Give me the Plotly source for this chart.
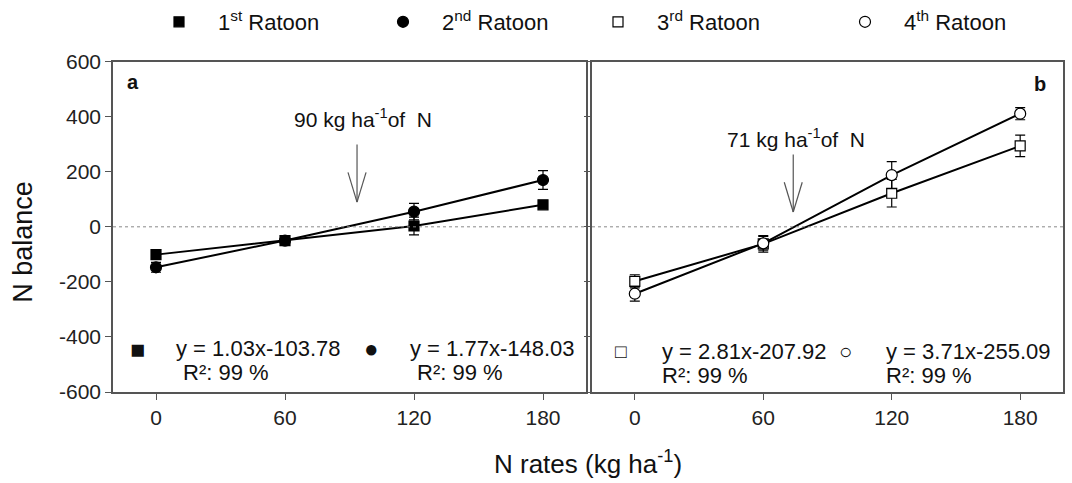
import plotly.graph_objects as go

# ---------------- data ----------------
n_rates = [0, 60, 120, 180]
x_ticks = [0, 60, 120, 180]
y_ticks = [-600, -400, -200, 0, 200, 400, 600]

ratoon1 = [-101, -50, 3, 80]
ratoon1_err = [8, 8, 32, 8]
ratoon2 = [-147, -50, 55, 170]
ratoon2_err = [18, 8, 30, 34]

ratoon3 = [-198, -62, 122, 294]
ratoon3_err = [24, 30, 50, 39]
ratoon4 = [-243, -60, 188, 411]
ratoon4_err = [27, 25, 49, 22]

series_names = ["1<sup>st</sup> Ratoon", "2<sup>nd</sup> Ratoon",
                "3<sup>rd</sup> Ratoon", "4<sup>th</sup> Ratoon"]
equations = ["y = 1.03x-103.78", "y = 1.77x-148.03",
             "y = 2.81x-207.92", "y = 3.71x-255.09"]
r2_text = "R²: 99 %"

FONT = "Liberation Sans, Arial, sans-serif"
AX = "#555555"

fig = go.Figure()

def add_series(x, y, err, name, symbol, size, fill, xa, ya, legend):
    # connecting line (not in legend)
    fig.add_trace(go.Scatter(
        x=x, y=y, mode="lines", showlegend=False, hoverinfo="skip",
        xaxis=xa, yaxis=ya, line=dict(color="black", width=2)))
    # markers with error bars (legend entry shows marker only)
    fig.add_trace(go.Scatter(
        x=x, y=y, mode="markers", name=name,
        xaxis=xa, yaxis=ya, legend=legend,
        marker=dict(symbol=symbol, size=size, color=fill,
                    line=dict(color="black", width=1.2)),
        error_y=dict(type="data", array=err, visible=True,
                     color="black", thickness=1.2, width=5),
    ))

add_series(n_rates, ratoon1, ratoon1_err, series_names[0], "square", 10, "black", "x", "y", "legend")
add_series(n_rates, ratoon2, ratoon2_err, series_names[1], "circle", 11, "black", "x", "y", "legend2")
add_series(n_rates, ratoon3, ratoon3_err, series_names[2], "square", 10, "white", "x2", "y2", "legend3")
add_series(n_rates, ratoon4, ratoon4_err, series_names[3], "circle", 11, "white", "x2", "y2", "legend4")

axis_common = dict(showline=True, linecolor=AX, linewidth=1.5, mirror=True,
                   ticks="outside", ticklen=6, tickcolor=AX, tickwidth=1.2,
                   showgrid=False, zeroline=False,
                   tickfont=dict(family=FONT, size=21, color="#222222"))

legend_common = dict(orientation="h", xref="container", yref="container",
                     yanchor="middle", xanchor="left", itemwidth=68,
                     bgcolor="rgba(0,0,0,0)", borderwidth=0,
                     font=dict(family=FONT, size=22, color="#111111"))

fig.update_layout(
    width=1072, height=483,
    margin=dict(l=113, r=7, t=58, b=91),
    paper_bgcolor="white", plot_bgcolor="white",
    font=dict(family=FONT, color="#111111"),
    xaxis=dict(domain=[0, 0.4979], range=[-20, 200], tickvals=x_ticks, **axis_common),
    xaxis2=dict(domain=[0.5042, 1], range=[-20, 200], tickvals=x_ticks, anchor="y2", **axis_common),
    yaxis=dict(range=[-600, 600], tickvals=y_ticks, ticktext=[str(v) for v in y_ticks],
               anchor="x", **axis_common),
    yaxis2=dict(range=[-600, 600], tickvals=y_ticks, anchor="x2", showticklabels=False, **axis_common),
    legend=dict(x=140 / 1072, y=1 - 22 / 483, **legend_common),
    legend2=dict(x=364 / 1072, y=1 - 22 / 483, **legend_common),
    legend3=dict(x=579 / 1072, y=1 - 22 / 483, **legend_common),
    legend4=dict(x=826 / 1072, y=1 - 22 / 483, **legend_common),
    showlegend=True,
)

# dotted zero lines
for xr, yr in [("x domain", "y"), ("x2 domain", "y2")]:
    fig.add_shape(type="line", xref=xr, yref=yr, x0=0, x1=1, y0=0, y1=0,
                  line=dict(color="#888888", width=1, dash="dot"))

# open-V arrows
def v_arrow(xr, yr, x, ytop, ytip, yarm, dx):
    ln = dict(color="#555555", width=1.2)
    fig.add_shape(type="line", xref=xr, yref=yr, x0=x, x1=x, y0=ytop, y1=ytip, line=ln)
    fig.add_shape(type="line", xref=xr, yref=yr, x0=x - dx, x1=x, y0=yarm, y1=ytip, line=ln)
    fig.add_shape(type="line", xref=xr, yref=yr, x0=x + dx, x1=x, y0=yarm, y1=ytip, line=ln)

v_arrow("x", "y", 93.5, 299, 90, 198, 4.2)
v_arrow("x2", "y2", 74, 263, 54, 162, 4.2)

ann = []
def txt(text, x, y, xr, yr, size=22, xanchor="center", bold=False, **kw):
    ann.append(dict(text=f"<b>{text}</b>" if bold else text, x=x, y=y, xref=xr, yref=yr,
                    xanchor=xanchor, yanchor="middle", showarrow=False,
                    font=dict(family=FONT, size=size, color="#111111"), **kw))

# panel letters
txt("a", -10.5, 526, "x", "y", size=20, bold=True)
txt("b", 189.3, 519, "x2", "y2", size=20, bold=True)

# arrow labels
txt("90 kg ha<sup>-1</sup>of&nbsp; N", 96.5, 396, "x", "y", size=21)
txt("71 kg ha<sup>-1</sup>of&nbsp; N", 75.3, 324, "x2", "y2", size=21)

# equation icons and texts
txt("■", -8.8, -443, "x", "y", size=25)
txt(equations[0], 8.4, -443, "x", "y", xanchor="left")
txt(r2_text, 11.6, -530, "x", "y", xanchor="left")
txt("●", 100, -443, "x", "y", size=24)
txt(equations[1], 117.2, -443, "x", "y", xanchor="left")
txt(r2_text, 120.5, -530, "x", "y", xanchor="left")

txt("□", -6.5, -454, "x2", "y2", size=19)
txt(equations[2], 11.6, -454, "x2", "y2", xanchor="left")
txt(r2_text, 11.6, -541, "x2", "y2", xanchor="left")
txt("○", 98.6, -454, "x2", "y2", size=22)
txt(equations[3], 116.3, -454, "x2", "y2", xanchor="left")
txt(r2_text, 116.3, -541, "x2", "y2", xanchor="left")

# axis titles
txt("N rates (kg ha<sup>-1</sup>)", 0.5, (392 - 463) / 334, "paper", "paper", size=26)
txt("N balance", (22 - 113) / 952, (392 - 240) / 334, "paper", "paper", size=27, textangle=-90)

fig.update_layout(annotations=ann)
fig.write_html("out.html")
